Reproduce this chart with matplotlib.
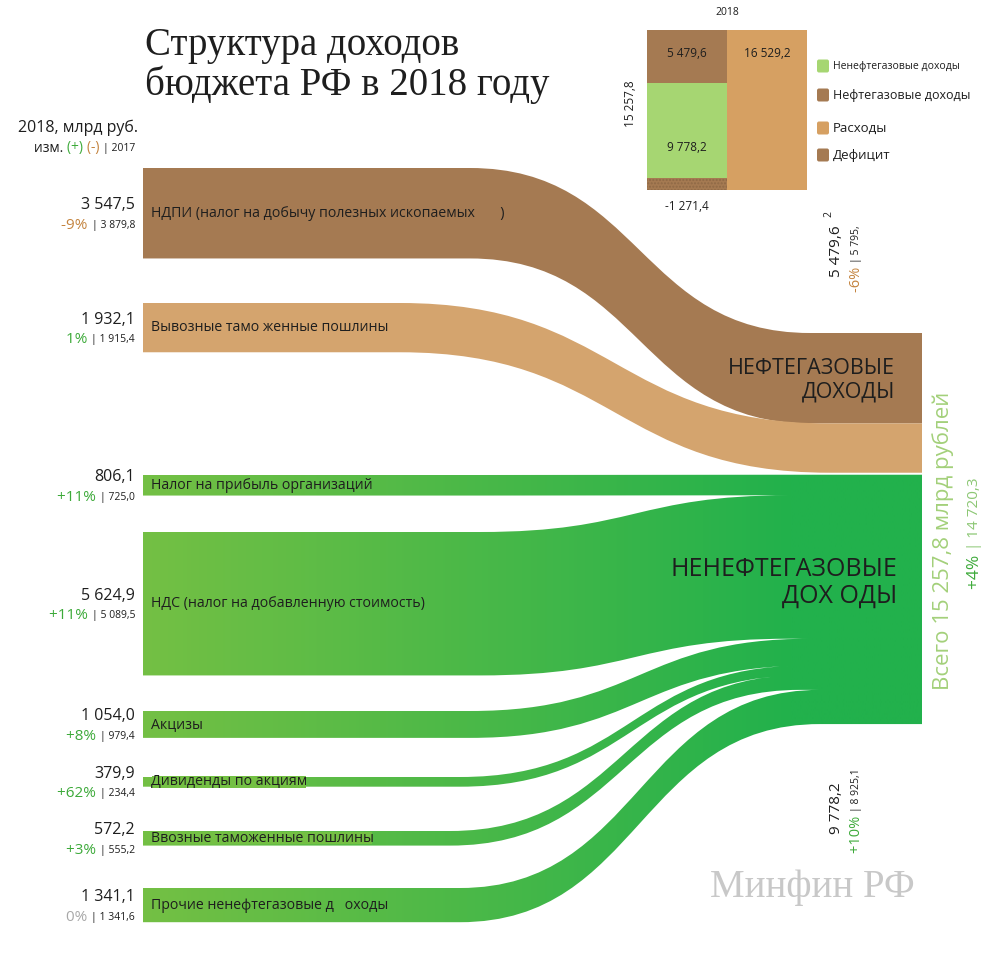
import numpy as np
import matplotlib.pyplot as plt
from matplotlib.path import Path
from matplotlib.patches import PathPatch, FancyBboxPatch
from matplotlib.colors import to_rgb

plt.rcParams['font.family'] = ['Open Sans', 'DejaVu Sans']

# ---- data (млрд руб.) ----
labels = ['НДПИ (налог на добычу полезных ископаемых       )',
          'Вывозные тамо женные пошлины',
          'Налог на прибыль организаций',
          'НДС (налог на добавленную стоимость)',
          'Акцизы',
          'Дивиденды по акциям',
          'Ввозные таможенные пошлины',
          'Прочие ненефтегазовые д   оходы']
groups = ['oil', 'oil', 'non', 'non', 'non', 'non', 'non', 'non']
val_2018 = [3547.5, 1932.1, 806.1, 5624.9, 1054.0, 379.9, 572.2, 1341.1]
val_2017 = [3879.8, 1915.4, 725.0, 5089.5, 979.4, 234.4, 555.2, 1341.6]
change = ['-9%', '1%', '+11%', '+11%', '+8%', '+62%', '+3%', '0%']

oil_2018, oil_2017, oil_change = 5479.6, 5795.2, '-6%'
non_2018, non_2017, non_change = 9778.2, 8925.1, '+10%'
total_2018, total_2017, total_change = 15257.8, 14720.3, '+4%'
expenses_2018 = 16529.2
deficit_2018 = -1271.4

# ---- layout ----
SCALE = 0.0255          # px per млрд руб.
X_LEFT, X_RIGHT = 143, 922
left_top = [168, 303, 475, 532, 711, 777, 831, 888]
curve_x = [(470, 810), (400, 830), (480, 780), (480, 790),
           (470, 810), (460, 805), (450, 800), (460, 820)]
RIGHT_TOP = 333
GROUP_GAP = 2

BROWN = '#a57a52'
TAN = '#d4a46e'
GREEN_L = '#74c044'
GREEN_R = '#22b14c'
POS = '#3daa3a'
NEG = '#c4843f'
ZERO = '#a8a8a8'
INK = '#1e1e1e'


def fmt(v):
    return f'{v:,.1f}'.replace(',', ' ').replace('.', ',')


def chg_color(s):
    if s.startswith('-'):
        return NEG
    if s.startswith('0'):
        return ZERO
    return POS


def flow_path(x0, x1, x2, x3, yl0, yl1, yr0, yr1):
    xm = (x1 + x2) / 2
    verts = [(x0, yl0), (x1, yl0), (xm, yl0), (xm, yr0), (x2, yr0), (x3, yr0),
             (x3, yr1), (x2, yr1), (xm, yr1), (xm, yl1), (x1, yl1), (x0, yl1),
             (x0, yl0)]
    codes = [Path.MOVETO, Path.LINETO, Path.CURVE4, Path.CURVE4, Path.CURVE4,
             Path.LINETO, Path.LINETO, Path.LINETO, Path.CURVE4, Path.CURVE4,
             Path.CURVE4, Path.LINETO, Path.CLOSEPOLY]
    return Path(verts, codes)


fig = plt.figure(figsize=(10, 9.6), dpi=100)
ax = fig.add_axes([0, 0, 1, 1])

heights = np.array(val_2018) * SCALE
right_top = []
y = RIGHT_TOP
for i, g in enumerate(groups):
    if i > 0 and g != groups[i - 1]:
        y += GROUP_GAP
    right_top.append(y)
    y += heights[i]

green_paths = []
for i, g in enumerate(groups):
    h = heights[i]
    p = flow_path(X_LEFT, curve_x[i][0], curve_x[i][1], X_RIGHT,
                  left_top[i], left_top[i] + h, right_top[i], right_top[i] + h)
    if g == 'oil':
        ax.add_patch(PathPatch(p, fc=BROWN if i == 0 else TAN, ec='none', zorder=1))
    else:
        green_paths.append(p)

# green flows share one horizontal gradient
green_patch = PathPatch(Path.make_compound_path(*green_paths), fc='none', ec='none')
ax.add_patch(green_patch)
gx = np.linspace(X_LEFT, X_RIGHT, 400)
t = np.clip((gx - X_LEFT) / (790 - X_LEFT), 0, 1)[:, None]
img = (np.array(to_rgb(GREEN_L)) * (1 - t) + np.array(to_rgb(GREEN_R)) * t)[None, :, :]
im = ax.imshow(img, extent=(X_LEFT, X_RIGHT, 950, 450), aspect='auto',
               interpolation='bilinear', zorder=1)
im.set_clip_path(green_patch)

ax.set_xlim(0, 1000)
ax.set_ylim(960, 0)
ax.axis('off')

# band labels and values on the left
for i in range(len(labels)):
    cy = left_top[i] + heights[i] / 2
    box = None
    if groups[i] == 'non' and heights[i] < 18:
        box = dict(boxstyle='square,pad=-0.1', fc=GREEN_L, ec='none')
    ax.text(151, cy, labels[i], ha='left', va='center', fontsize=10.2, color=INK,
            bbox=box, zorder=3)
    ax.text(135, cy - 8, fmt(val_2018[i]), ha='right', va='center', fontsize=11.5, color=INK)
    t2 = ax.text(135, cy + 12, '| ' + fmt(val_2017[i]), ha='right', va='center',
                 fontsize=7.5, color=INK)
    ax.annotate(change[i] + ' ', xy=(0, 0.5), xycoords=t2, ha='right', va='center',
                fontsize=11, color=chg_color(change[i]))

# header on the left
ax.text(138, 128, '2018, млрд руб.', ha='right', va='center', fontsize=11.5, color=INK)
h1 = ax.text(135, 148, '| 2017', ha='right', va='center', fontsize=7.5, color=INK)
h2 = ax.annotate('(-) ', xy=(0, 0.5), xycoords=h1, ha='right', va='center', fontsize=10, color=NEG)
h3 = ax.annotate('(+) ', xy=(0, 0.5), xycoords=h2, ha='right', va='center', fontsize=10, color=POS)
ax.annotate('изм. ', xy=(0, 0.5), xycoords=h3, ha='right', va='center', fontsize=10, color=INK)

# title
ax.text(145, 45, 'Структура доходов', family='Liberation Serif', fontsize=28,
        ha='left', va='center', color=INK)
ax.text(145, 85, 'бюджета РФ в 2018 году', family='Liberation Serif', fontsize=28,
        ha='left', va='center', color=INK)

# node captions
ax.text(895, 380, 'НЕФТЕГАЗОВЫЕ\nДОХОДЫ', ha='right', va='center', fontsize=15.5,
        linespacing=1.15, color=INK, zorder=3)
ax.text(897, 583, 'НЕНЕФТЕГАЗОВЫЕ\nДОХ ОДЫ', ha='right', va='center', fontsize=18,
        linespacing=1.1, color=INK, zorder=3)

# totals on the right
ax.text(943, 541, f'Всего {fmt(total_2018)} млрд рублей', rotation=90, ha='center',
        va='center', fontsize=16, color='#a3d07a')
r1 = ax.text(975, 550, '| ' + fmt(total_2017), rotation=90, ha='center', va='bottom',
             fontsize=11, color='#8cc774')
ax.annotate(total_change + ' ', xy=(0.5, 0), xycoords=r1, rotation=90, ha='center',
            va='top', fontsize=12.5, color=POS)

ax.text(836, 251, fmt(oil_2018), rotation=90, ha='center', va='center', fontsize=11, color=INK)
o1 = ax.text(857, 263, '| ' + fmt(oil_2017)[:-1], rotation=90, ha='center', va='bottom',
             fontsize=7.5, color=INK)
ax.annotate(oil_change + ' ', xy=(0.5, 0), xycoords=o1, rotation=90, ha='center', va='top',
            fontsize=10.5, color=NEG)
ax.text(829, 214, fmt(oil_2017)[-1], rotation=90, ha='center', va='center', fontsize=7.5, color=INK)

ax.text(837, 808, fmt(non_2018), rotation=90, ha='center', va='center', fontsize=11, color=INK)
n1 = ax.text(857, 812, '| ' + fmt(non_2017), rotation=90, ha='center', va='bottom',
             fontsize=7.5, color=INK)
ax.annotate(non_change + ' ', xy=(0.5, 0), xycoords=n1, rotation=90, ha='center', va='top',
            fontsize=10.5, color=POS)

ax.text(915, 888, 'Минфин РФ', ha='right', va='center', family='Liberation Serif',
        fontsize=28, color='#c8c8c8')

# ---- inset: revenues vs expenses ----
ins = fig.add_axes([0.647, 1 - 190 / 960, 0.16, 160 / 960])
d = abs(deficit_2018)
ins.bar(0, d, width=1, bottom=0, color=BROWN, hatch='.....', edgecolor='#8f6946', lw=0)
ins.bar(0, non_2018, width=1, bottom=d, color='#a6d672', lw=0)
ins.bar(0, oil_2018, width=1, bottom=d + non_2018, color=BROWN, lw=0)
ins.bar(1, expenses_2018, width=1, bottom=0, color='#d6a062', lw=0)
ins.set_xlim(-0.5, 1.5)
ins.set_ylim(0, expenses_2018)
ins.axis('off')
oil_label_y = d + non_2018 + oil_2018 * 0.55
ins.text(0, oil_label_y, fmt(oil_2018), ha='center', va='center', fontsize=8.5, color=INK)
ins.text(1, oil_label_y, fmt(expenses_2018), ha='center', va='center', fontsize=8.5, color=INK)
ins.text(0, d + non_2018 * 0.32, fmt(non_2018), ha='center', va='center', fontsize=8.5, color=INK)
ins.text(-0.7, d + total_2018 / 2, fmt(total_2018), rotation=90, ha='center', va='center',
         fontsize=8.5, color=INK)
ins.text(0, -1700, fmt(deficit_2018), ha='center', va='center', fontsize=8.5, color=INK)
ins.set_title('2018', fontsize=7.5, pad=11, color=INK)

# legend
legend_items = [('Ненефтегазовые доходы', '#a6d672', 66, 7.5),
                ('Нефтегазовые доходы', BROWN, 95, 9),
                ('Расходы', '#d6a062', 128, 9.5),
                ('Дефицит', BROWN, 155, 9.5)]
for text, col, yy, fs in legend_items:
    ax.add_patch(FancyBboxPatch((817, yy - 6.5), 12, 13, boxstyle='round,pad=0,rounding_size=2',
                                fc=col, ec='none'))
    ax.text(833, yy, text, ha='left', va='center', fontsize=fs, color=INK)

fig.savefig('out.png', dpi=100)
